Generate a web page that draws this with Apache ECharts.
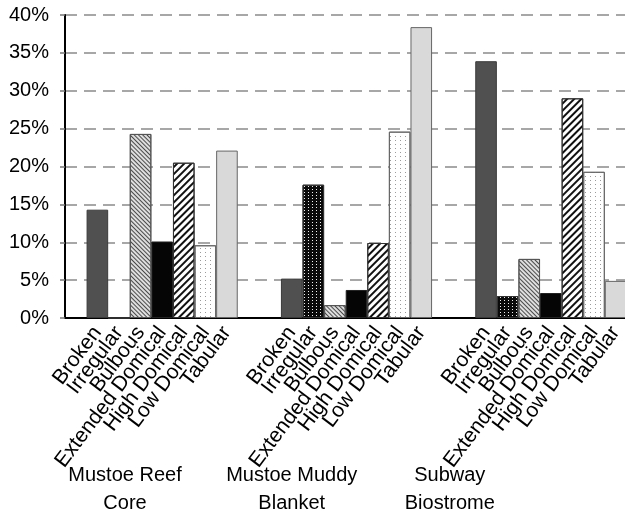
<!DOCTYPE html>
<html>
<head>
<meta charset="utf-8">
<script src="https://cdn.jsdelivr.net/npm/echarts@6/dist/echarts.min.js"></script>
<style>
  html, body { margin: 0; padding: 0; background: #fff; overflow: hidden; width: 625px; height: 514px; }
  /* the plot runs past the right edge, like the cropped original */
  #chart { width: 648px; height: 514px; }
</style>
</head>
<body>
<div id="chart"></div>
<script>
// colony shapes, one bar each per site
const shapes = ['Broken', 'Irregular', 'Bulbous', 'Extended Domical', 'High Domical', 'Low Domical', 'Tabular']
const sites = ['Mustoe Reef\nCore', 'Mustoe Muddy\nBlanket', 'Subway\nBiostrome']

// percent of colonies
const reefCore = [14.3, 0, 24.3, 10.1, 20.5, 9.6, 22.1]
const muddyBlanket = [5.2, 17.6, 1.7, 3.7, 9.9, 24.6, 38.4]
const subwayBiostrome = [33.9, 2.9, 7.8, 3.3, 29.0, 19.3, 4.9]

const yTicks = [0, 5, 10, 15, 20, 25, 30, 35, 40]

// where the site names sit, in bar slots (they are left of the group centres in the original)
const siteLabelAt = [2.78, 10.5, 17.82]

const line = (color, gap, rot) => ({
  symbol: 'rect', symbolSize: 1, color: color,
  dashArrayX: [1, 0], dashArrayY: gap, rotation: rot
})
const dots = (color, dx, dy) => ({
  symbol: 'rect', symbolSize: 1, color: color,
  dashArrayX: dx, dashArrayY: dy
})

// fill per shape
const look = {
  'Broken': { color: '#505050', borderColor: '#3a3a3a' },
  'Irregular': { color: '#0a0a0a', borderColor: '#333', decal: dots('#f0f0f0', [1, 3], [1, 2]) },
  'Bulbous': { color: '#dedede', borderColor: '#555', decal: line('#4a4a4a', [1, 1.3], Math.PI / 4) },
  'Extended Domical': { color: '#050505', borderColor: '#222' },
  'High Domical': { color: '#ffffff', borderColor: '#333', decal: line('#111111', [2, 2.6], -Math.PI / 4) },
  'Low Domical': { color: '#ffffff', borderColor: '#666', decal: dots('#9a9a9a', [1, 3.5], [1, 3]) },
  'Tabular': { color: '#d9d9d9', borderColor: '#666' }
}

// one slot before, two between groups, one after
const cats = []
const bars = []
const pad = (n) => {
  for (let i = 0; i < n; i++) {
    cats.push('')
    bars.push('-')
  }
}
pad(1)
;[reefCore, muddyBlanket, subwayBiostrome].forEach((vals, g) => {
  vals.forEach((v, i) => {
    cats.push(shapes[i])
    bars.push({ value: v, itemStyle: Object.assign({ borderWidth: 1 }, look[shapes[i]]) })
  })
  pad(g < 2 ? 2 : 1)
})

const dom = echarts.init(document.getElementById('chart'))
dom.setOption({
  animation: false,
  grid: { left: 65, right: 0, top: 15, bottom: 196, outerBoundsMode: 'none' },
  xAxis: [
    {
      type: 'category',
      data: cats,
      axisLine: { lineStyle: { color: '#000', width: 2 } },
      axisTick: { show: false },
      axisLabel: {
        interval: 0,
        rotate: 53,
        margin: 11,
        color: '#000',
        fontSize: 21,
        fontFamily: 'Liberation Sans'
      }
    },
    {
      // site names
      type: 'value',
      position: 'bottom',
      min: 0,
      max: cats.length,
      axisLine: { show: false },
      axisTick: { show: false },
      splitLine: { show: false },
      axisLabel: {
        customValues: siteLabelAt,
        formatter: (v) => {
          const i = siteLabelAt.findIndex(p => Math.abs(p - v) < 0.01)
          return i < 0 ? '' : sites[i]
        },
        margin: 143,
        color: '#000',
        fontSize: 20,
        lineHeight: 28,
        fontFamily: 'Liberation Sans'
      }
    }
  ],
  yAxis: {
    type: 'value',
    min: yTicks[0],
    max: yTicks[yTicks.length - 1],
    interval: 5,
    axisLine: { show: true, lineStyle: { color: '#000', width: 2 } },
    axisTick: { show: true, length: 5, lineStyle: { color: '#777', width: 1.5 } },
    axisLabel: {
      formatter: '{value}%',
      margin: 16,
      color: '#000',
      fontSize: 20,
      fontFamily: 'Liberation Sans'
    },
    splitLine: {
      lineStyle: { color: '#8a8a8a', width: 1.5, type: [12, 7] }
    }
  },
  series: [
    {
      type: 'bar',
      data: bars,
      barCategoryGap: '0%',
      xAxisIndex: 0
    }
  ]
})
</script>
</body>
</html>
